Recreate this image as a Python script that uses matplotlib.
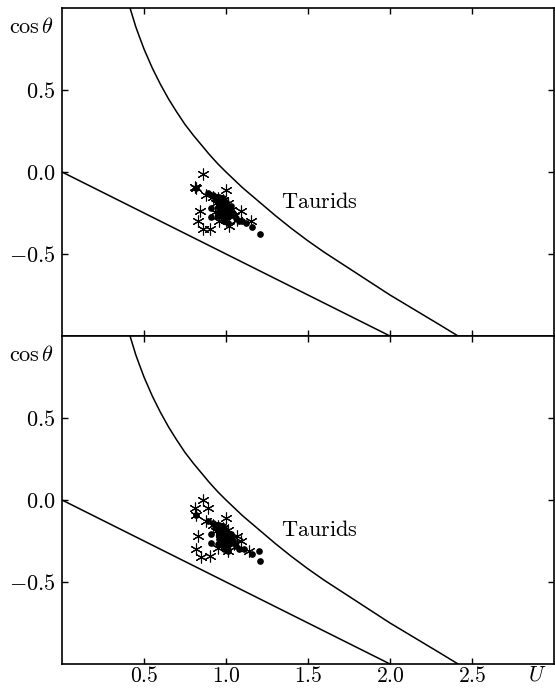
import matplotlib
matplotlib.use("Agg")
import matplotlib.pyplot as plt
import numpy as np

plt.rcParams['mathtext.fontset'] = 'cm'
plt.rcParams['font.family'] = ['DejaVu Serif']

# boundary curve (U, cos theta)
curve_u = [0.415, 0.43, 0.45, 0.47, 0.50, 0.55, 0.60, 0.65, 0.70, 0.75, 0.80, 0.85,
           0.90, 0.95, 1.00, 1.10, 1.20, 1.30, 1.40, 1.50, 1.60, 1.70,
           1.80, 1.90, 2.00, 2.10, 2.20, 2.30, 2.415]
curve_c = [1.00, 0.95, 0.885, 0.83, 0.75, 0.635, 0.535, 0.445, 0.365, 0.29, 0.225, 0.165,
           0.105, 0.05, 0.00, -0.095, -0.18, -0.265, -0.345, -0.42, -0.49, -0.555,
           -0.62, -0.685, -0.75, -0.81, -0.87, -0.93, -1.00]

# straight line
line_u = [0.0, 2.0]
line_c = [0.0, -1.0]

# upper panel
top_star_u = [0.86, 0.82, 0.81, 1.00, 0.84, 0.83, 0.86, 0.90, 1.09, 1.15,
              1.02, 0.96, 1.07, 0.93, 0.88, 0.92, 0.95, 0.98, 1.01, 0.97,
              1.03, 0.99, 1.05, 0.94, 1.00]
top_star_c = [-0.01, -0.10, -0.09, -0.11, -0.24, -0.30, -0.35, -0.35, -0.24, -0.30,
              -0.33, -0.30, -0.29, -0.245, -0.14, -0.15, -0.16, -0.17, -0.19, -0.22,
              -0.23, -0.26, -0.27, -0.19, -0.29]
top_dot_u = [0.82, 0.91, 0.91, 1.10, 1.16, 1.21, 0.89, 0.92, 0.94, 0.96,
             0.98, 0.95, 0.97, 0.99, 1.00, 0.98, 1.01, 0.97, 1.00, 1.02,
             0.98, 1.03, 0.96, 1.04, 1.06, 0.99, 1.01, 0.95, 1.08, 1.12,
             0.93, 0.97, 1.00, 1.02, 0.99, 0.96]
top_dot_c = [-0.10, -0.22, -0.275, -0.30, -0.335, -0.38, -0.13, -0.14, -0.15, -0.15,
             -0.16, -0.18, -0.19, -0.20, -0.22, -0.23, -0.24, -0.25, -0.26, -0.27,
             -0.28, -0.21, -0.21, -0.25, -0.28, -0.30, -0.31, -0.27, -0.30, -0.31,
             -0.16, -0.17, -0.18, -0.23, -0.27, -0.24]

# lower panel
bot_star_u = [0.86, 0.81, 0.89, 0.82, 1.00, 0.83, 0.82, 0.85, 0.90, 1.07,
              1.09, 1.14, 1.01, 0.95, 0.88, 0.92, 0.95, 0.98, 1.01, 0.97,
              1.03, 0.99, 1.05, 0.94, 1.00]
bot_star_c = [0.00, -0.05, -0.05, -0.09, -0.11, -0.22, -0.30, -0.35, -0.34, -0.22,
              -0.25, -0.31, -0.31, -0.29, -0.13, -0.15, -0.16, -0.17, -0.18, -0.21,
              -0.23, -0.25, -0.27, -0.19, -0.28]
bot_dot_u = [0.82, 0.91, 0.91, 1.11, 1.16, 1.20, 1.21, 0.89, 0.92, 0.94,
             0.96, 0.98, 0.95, 0.97, 0.99, 1.00, 0.98, 1.01, 0.97, 1.00,
             1.02, 0.98, 1.03, 0.96, 1.04, 1.06, 0.99, 1.01, 0.95, 1.08,
             0.93, 0.97, 1.00, 1.02, 0.99, 0.96]
bot_dot_c = [-0.09, -0.21, -0.26, -0.30, -0.33, -0.31, -0.37, -0.13, -0.14, -0.15,
             -0.15, -0.16, -0.18, -0.19, -0.20, -0.22, -0.23, -0.24, -0.25, -0.26,
             -0.27, -0.28, -0.21, -0.21, -0.25, -0.28, -0.30, -0.31, -0.27, -0.30,
             -0.16, -0.17, -0.18, -0.23, -0.27, -0.24]

xticks = [0.5, 1.0, 1.5, 2.0, 2.5]
xlabels = [r'$0.5$', r'$1.0$', r'$1.5$', r'$2.0$', r'$2.5$']
yticks = [0.5, 0.0, -0.5]
ylabels = [r'$0.5$', r'$0.0$', r'$-0.5$']

fig = plt.figure(figsize=(5.55, 6.88), dpi=100)
ax1 = fig.add_axes([62 / 555, (688 - 336) / 688, 492 / 555, 328 / 688])
ax2 = fig.add_axes([62 / 555, (688 - 664) / 688, 492 / 555, 328 / 688])

panels = [(ax1, top_star_u, top_star_c, top_dot_u, top_dot_c),
          (ax2, bot_star_u, bot_star_c, bot_dot_u, bot_dot_c)]

for ax, su, sc, du, dc in panels:
    ax.plot(curve_u, curve_c, color='black', lw=1.1)
    ax.plot(line_u, line_c, color='black', lw=1.1)
    ax.plot(su, sc, ls='none', marker=(6, 2, 0), ms=8.5, mew=0.8, color='black')
    ax.plot(du, dc, ls='none', marker='o', ms=3.8, color='black')
    ax.text(1.335, -0.183, r'$\mathrm{Taurids}$', fontsize=16, ha='left', va='center')
    ax.text(-0.016, 0.942, r'$\cos\theta$', fontsize=16, ha='right', va='center',
            transform=ax.transAxes)

    ax.set_xlim(0, 3.0)
    ax.set_ylim(-1, 1)
    ax.set_xticks(xticks)
    ax.set_yticks(yticks)
    ax.set_yticklabels(ylabels, fontsize=16)
    ax.tick_params(direction='in', length=4, width=1, top=True, right=True, pad=5)
    for s in ax.spines.values():
        s.set_linewidth(1.2)

ax1.set_xticklabels([])
ax2.set_xticklabels(xlabels, fontsize=15.5)
ax2.tick_params(axis='x', pad=1)
ax2.text(2.9, -1.10, r'$U$', fontsize=15.5, ha='center', va='baseline')

fig.savefig('out.png', dpi=100)
